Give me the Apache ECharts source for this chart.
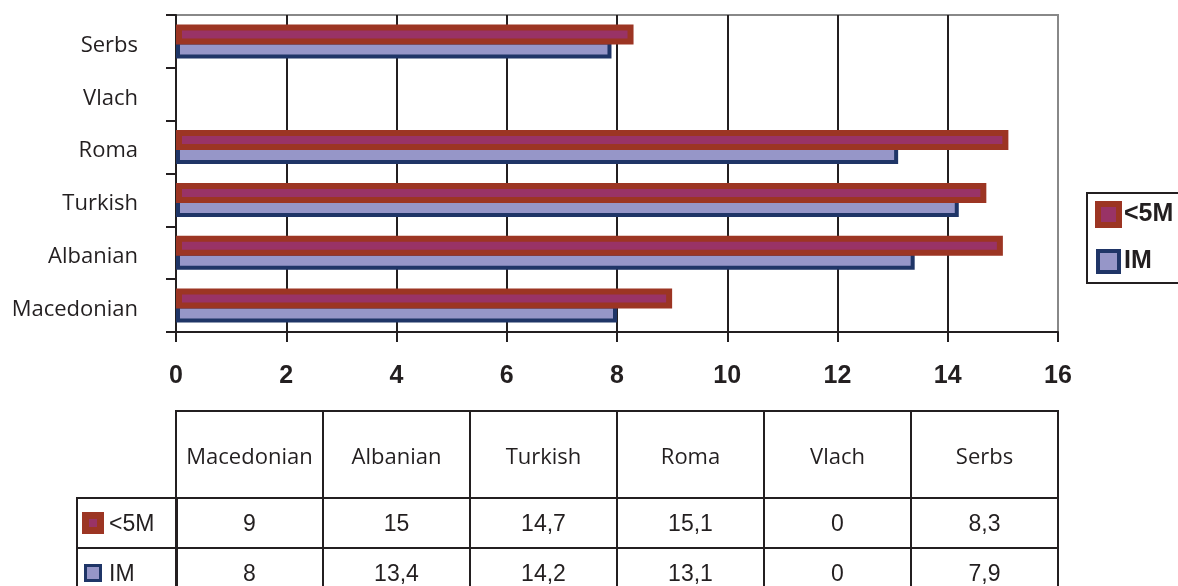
<!DOCTYPE html>
<html>
<head>
<meta charset="utf-8">
<script src="https://cdn.jsdelivr.net/npm/echarts@6/dist/echarts.min.js"></script>
<style>
  body { margin: 0; background: #fff; }
  #wrap { position: relative; width: 1178px; height: 586px; overflow: hidden; }
  #chart { position: absolute; left: 0; top: 0; width: 1178px; height: 586px; }
  .cell { position: absolute; box-sizing: border-box; border: 2px solid #231F20;
          display: flex; align-items: center; justify-content: center; color: #231F20; }
  .head { font-family: "Open Sans", sans-serif; font-size: 22px; }
  .val { font-family: "Liberation Sans", Arial, sans-serif; font-size: 23px; }
  .lab { justify-content: flex-start; font-family: "Liberation Sans", Arial, sans-serif; font-size: 23px; padding-left: 4px; }
  .sw { display: inline-block; box-sizing: border-box; margin-right: 5px; }
</style>
</head>
<body>
<div id="wrap">
  <div id="chart"></div>
  <div id="table"></div>
</div>
<script>
// categories bottom -> top, as on the axis
var categories = ['Macedonian', 'Albanian', 'Turkish', 'Roma', 'Vlach', 'Serbs'];
var seriesNames = ['<5M', 'IM'];
var under5M = [9, 15, 14.7, 15.1, 0, 8.3];
var valIM = [8, 13.4, 14.2, 13.1, 0, 7.9];
var xTicks = [0, 2, 4, 6, 8, 10, 12, 14, 16];

var redFill = '#993366', redEdge = '#9C3523';
var blueFill = '#9696C8', blueEdge = '#1F3567';
var ink = '#231F20';

// zero bars are not drawn in the original
function barData(arr) {
    return arr.map(function (v) {
        return v === 0 ? { value: 0, itemStyle: { borderWidth: 0 } } : v;
    });
}

var myChart = echarts.init(document.getElementById('chart'));

option = {
    animation: false,
    grid: {
        left: 176, right: 120, top: 15, bottom: 254,
        show: true, borderColor: '#888', borderWidth: 2
    },
    legend: {
        orient: 'vertical',
        left: 1090, top: 196,
        itemWidth: 21, itemHeight: 21,
        itemGap: 21,
        textStyle: { fontFamily: 'Liberation Sans', fontWeight: 'bold', fontSize: 25, color: ink },
        data: [
            { name: seriesNames[0], icon: 'rect', itemStyle: { color: redFill, borderColor: redEdge, borderWidth: 6 } },
            { name: seriesNames[1], icon: 'rect', itemStyle: { color: blueFill, borderColor: blueEdge, borderWidth: 4 } }
        ]
    },
    graphic: [{
        type: 'rect',
        shape: { x: 1087, y: 193, width: 100, height: 90 },
        style: { fill: 'none', stroke: ink, lineWidth: 2 }
    }],
    xAxis: {
        type: 'value',
        min: xTicks[0], max: xTicks[xTicks.length - 1], interval: 2,
        axisLine: { show: true, lineStyle: { color: ink, width: 2 } },
        axisTick: { show: true, length: 10, lineStyle: { color: ink, width: 2 } },
        axisLabel: { fontFamily: 'Liberation Sans', fontWeight: 'bold', fontSize: 25, color: ink, margin: 32 },
        splitLine: { show: true, showMaxLine: false, lineStyle: { color: ink, width: 2 } }
    },
    yAxis: {
        type: 'category',
        data: categories,
        axisLine: { show: true, lineStyle: { color: ink, width: 2 } },
        axisTick: { show: true, length: 10, lineStyle: { color: ink, width: 2 } },
        axisLabel: {
            margin: 38,
            formatter: '{l|{value}}',
            rich: { l: { fontFamily: 'Open Sans', fontSize: 22, color: ink, padding: [8, 0, 0, 0] } }
        }
    },
    series: [
        {
            name: seriesNames[0], type: 'bar', z: 3,
            barWidth: 20, barGap: '-20%',
            itemStyle: { color: redFill, borderColor: redEdge, borderWidth: 6 },
            data: barData(under5M)
        },
        {
            name: seriesNames[1], type: 'bar', z: 2,
            barWidth: 18,
            itemStyle: { color: blueFill, borderColor: blueEdge, borderWidth: 4 },
            data: barData(valIM)
        }
    ]
};
myChart.setOption(option);

// data table under the chart
var tbl = document.getElementById('table');
var colX = 176, colW = 147;
function cell(cls, x, y, w, h, html) {
    var d = document.createElement('div');
    d.className = 'cell ' + cls;
    d.style.left = x + 'px'; d.style.top = y + 'px';
    d.style.width = (w + 2) + 'px'; d.style.height = (h + 2) + 'px';
    d.innerHTML = html;
    tbl.appendChild(d);
}
function fmt(v) { return String(v).replace('.', ','); }
var rowsY = [410, 497, 547];
var rowsH = [87, 50, 50];
categories.forEach(function (c, i) {
    var x = colX + i * colW - 1;
    cell('head', x, rowsY[0], colW, rowsH[0], c);
    cell('val', x, rowsY[1], colW, rowsH[1], fmt(under5M[i]));
    cell('val', x, rowsY[2], colW, rowsH[2], fmt(valIM[i]));
});
cell('lab', 76, rowsY[1], colX - 76, rowsH[1],
    '<span class="sw" style="width:22px;height:22px;background:' + redFill + ';border:7px solid ' + redEdge + '"></span>' + seriesNames[0]);
cell('lab', 76, rowsY[2], colX - 76, rowsH[2],
    '<span class="sw" style="width:18px;height:18px;margin-left:2px;margin-right:7px;background:' + blueFill + ';border:3px solid ' + blueEdge + '"></span>' + seriesNames[1]);
</script>
</body>
</html>
